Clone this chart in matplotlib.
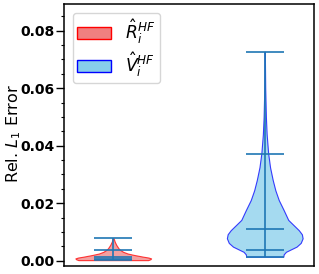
import matplotlib
matplotlib.use("Agg")
import matplotlib.pyplot as plt
import numpy as np
from matplotlib.patches import Patch
from matplotlib.ticker import MultipleLocator

# Series labels
labels = [r"$\hat{R}_i^{HF}$", r"$\hat{V}_i^{HF}$"]

# Red (R) violin: density profile
r_coords = [0.0002, 0.0005, 0.0008, 0.0011, 0.0014, 0.0020, 0.0025, 0.0031, 0.0037,
            0.0043, 0.0055, 0.0066, 0.0078]
r_vals = [0.92, 0.98, 1.00, 0.93, 0.79, 0.55, 0.38, 0.26, 0.19, 0.14, 0.08, 0.04, 0.01]
r_min, r_max = 0.0002, 0.0078
r_quantiles = [0.0005, 0.0012, 0.0038]

# Blue (V) violin: density profile
v_coords = [0.0014, 0.0022, 0.0031, 0.0040, 0.0049, 0.0062, 0.0078, 0.0092, 0.0106,
            0.0124, 0.0142, 0.0176, 0.0211, 0.0245, 0.0281, 0.0325, 0.0374, 0.0440,
            0.0500, 0.0600, 0.0727]
v_vals = [0.49, 0.50, 0.56, 0.70, 0.84, 0.95, 1.00, 0.98, 0.90, 0.76, 0.62, 0.50,
          0.37, 0.28, 0.21, 0.14, 0.09, 0.05, 0.03, 0.012, 0.002]
v_min, v_max = 0.0014, 0.0727
v_quantiles = [0.0037, 0.0110, 0.0371]

fig = plt.figure(figsize=(3.19, 2.74), dpi=100)
ax = fig.add_axes([64/319, 1-266/274, 250/319, 262/274])

stats = [
    dict(coords=np.array(r_coords), vals=np.array(r_vals), mean=np.mean(r_quantiles),
         median=r_quantiles[1], min=r_min, max=r_max, quantiles=np.array(r_quantiles)),
    dict(coords=np.array(v_coords), vals=np.array(v_vals), mean=np.mean(v_quantiles),
         median=v_quantiles[1], min=v_min, max=v_max, quantiles=np.array(v_quantiles)),
]
parts = ax.violin(stats, positions=[1, 2], widths=0.5, showextrema=True)
face = ["lightcoral", "skyblue"]
edge = ["red", "blue"]
for b, fc, ec in zip(parts["bodies"], face, edge):
    b.set_facecolor(fc)
    b.set_edgecolor(ec)
    b.set_alpha(0.75)
    b.set_linewidth(0.8)
for k in ["cmins", "cmaxes", "cbars", "cquantiles"]:
    if k in parts:
        parts[k].set_color("#1f77b4")
        parts[k].set_linewidth(1.2)

ax.set_xlim(0.675, 2.325)
ax.set_xticks([])
ax.yaxis.set_major_locator(MultipleLocator(0.02))
ax.yaxis.set_minor_locator(MultipleLocator(0.005))
ax.set_ylim(-0.00184, 0.0893)
ax.tick_params(axis="y", which="major", length=6, width=1, pad=1, labelsize=10)
ax.tick_params(axis="y", which="minor", length=2.5, width=0.8)
ax.set_yticks([0.0, 0.02, 0.04, 0.06, 0.08])
ax.set_yticklabels([f"{v:.2f}" for v in [0.0, 0.02, 0.04, 0.06, 0.08]], fontweight="bold")
ax.set_ylim(-0.00184, 0.0893)
ax.set_ylabel("Rel. $L_1$ Error", fontsize=11.5)
ax.yaxis.set_label_coords(-0.165, 0.506)
for s in ax.spines.values():
    s.set_linewidth(1.1)

handles = [Patch(facecolor="lightcoral", edgecolor="red"),
           Patch(facecolor="skyblue", edgecolor="blue")]
ax.legend(handles, labels, loc="upper left", fontsize=12.3, labelspacing=0.24,
          borderpad=0.28, borderaxespad=0.5)

fig.savefig("out.png", dpi=100)
